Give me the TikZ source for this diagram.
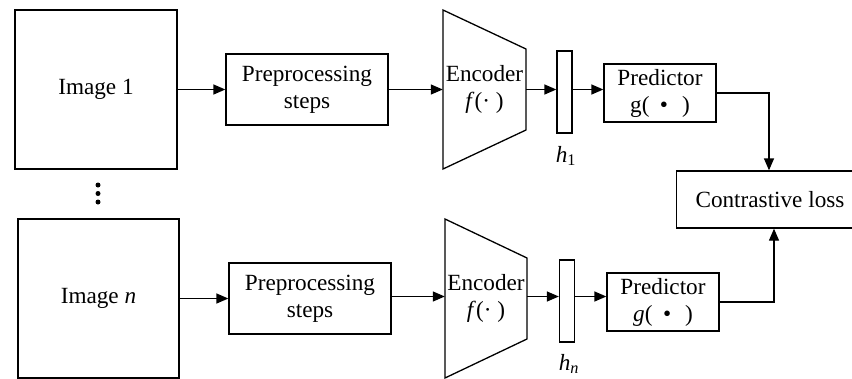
\documentclass[tikz,border=0pt]{standalone}
\usepackage{fontspec}
\setmainfont{LiberationSerif}[Extension=.ttf, UprightFont=*-Regular, ItalicFont=*-Italic, BoldFont=*-Bold, BoldItalicFont=*-BoldItalic]
\usetikzlibrary{arrows.meta}
\tikzset{
    box/.style={draw, line width=1.3pt, align=center, inner sep=0pt},
    latent/.style={draw, line width=1.3pt, minimum width=15, minimum height=82, inner sep=0pt},
    link/.style={line width=1.3pt, -{Triangle[length=12pt,width=10pt]}}
}
\newcommand{\gap}[1]{\hspace{#1em}}
\begin{document}
\begin{tikzpicture}[x=1pt, y=-1pt, font=\fontsize{23.2}{27}\selectfont]
        \useasboundingbox (0,0) rectangle (852,378);
        % upper branch
        \draw (96,89.5) node[box, minimum width=162, minimum height=159](img1){Image 1};
        \draw (307,89.5) node[box, minimum width=162, minimum height=71](pre1){Preprocessing\\steps};
        \draw[line width=1.3pt] (443,10) -- (526,49) -- (526,130) -- (443,169) -- cycle;
        \draw (484.5,89.5) node[align=center, minimum width=83, minimum height=159, inner sep=0pt](enc1){Encoder\\\textit{f}(· )};
        \draw (564.5,92) node[latent](bar1){};
        \draw (566,156) node[](lab1){\textit{h}\textsubscript{1}};
        \draw (660,93) node[box, minimum width=112, minimum height=58](pred1){Predictor\\g(\gap{0.45}•\gap{0.6})};
        % dots
        \fill (98,185) circle (2.5);
        \fill (98,193.5) circle (2.5);
        \fill (98,202) circle (2.5);
        % lower branch
        \draw (98.5,298.5) node[box, minimum width=161, minimum height=159](imgn){Image \textit{n}};
        \draw (310,298.5) node[box, minimum width=162, minimum height=71](pren){Preprocessing\\steps};
        \draw[line width=1.3pt] (445,219) -- (527,258) -- (527,339) -- (445,378) -- cycle;
        \draw (486,298.5) node[align=center, minimum width=82, minimum height=159, inner sep=0pt](encn){Encoder\\\textit{f}(· )};
        \draw (567,301) node[latent](barn){};
        \draw (569,364) node[](labn){\textit{h}\textsubscript{\textit{n}}};
        \draw (663,302) node[box, minimum width=112, minimum height=58](predn){Predictor\\\textit{g}(\gap{0.45}•\gap{0.6})};
        % loss
        \draw (770,199.5) node[box, minimum width=187, minimum height=57](loss){Contrastive loss};
        % connectors
        \draw[link] (img1.east) -- (pre1.west);
        \draw[link] (pre1.east) -- (enc1.west);
        \draw[link] (enc1.east) -- (enc1.east -| bar1.west);
        \draw[link] (bar1.east |- enc1.east) -- (bar1.east |- enc1.east -| pred1.west);
        \draw[link] (pred1.east) -| ([xshift=-1]loss.north);
        \draw[link] (imgn.east) -- (pren.west);
        \draw[link] ([yshift=2]pren.east) -- ([yshift=2]encn.west);
        \draw[link] ([yshift=2]encn.east) -- ([yshift=2]encn.east -| barn.west);
        \draw[link] ([yshift=2]barn.east |- encn.east) -- ([yshift=2]barn.east |- encn.east -| predn.west);
        \draw[link] (predn.east) -| ([xshift=4]loss.south);
\end{tikzpicture}
\end{document}
